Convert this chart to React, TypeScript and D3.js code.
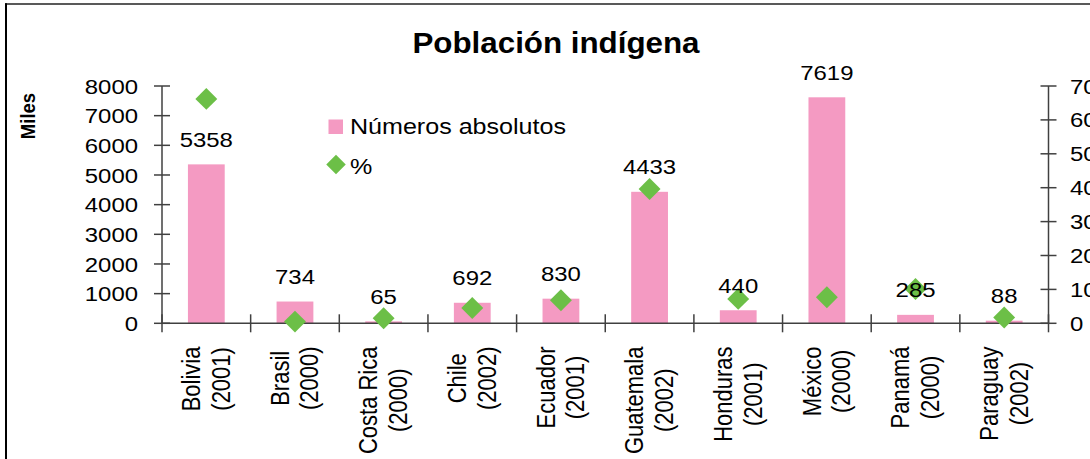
import React from 'react';
import * as d3 from 'd3';

const countries = ['Bolivia', 'Brasil', 'Costa Rica', 'Chile', 'Ecuador', 'Guatemala', 'Honduras', 'México', 'Panamá', 'Paraguay'];
const years = ['(2001)', '(2000)', '(2000)', '(2002)', '(2001)', '(2002)', '(2001)', '(2000)', '(2000)', '(2002)'];
const absolutos = [5358, 734, 65, 692, 830, 4433, 440, 7619, 285, 88];
const porcentaje = [66.2, 0.5, 1.5, 4.5, 6.8, 39.6, 7.2, 7.7, 10.1, 1.7];
const leftTicks = [0, 1000, 2000, 3000, 4000, 5000, 6000, 7000, 8000];
const rightTicks = [0, 10, 20, 30, 40, 50, 60, 70];

const FONT = 'Liberation Sans, Arial, Helvetica, sans-serif';
const PINK = '#F49AC2';
const GREEN = '#6CBF47';
const AXIS = '#404040';
const SX = 1.14;

let ctx: CanvasRenderingContext2D | null = null;
function measure(text: string, size: number): number {
  if (!ctx) {
    const c = document.createElement('canvas');
    ctx = c.getContext('2d');
  }
  if (!ctx) return text.length * size * 0.55;
  ctx.font = `${size}px "Liberation Sans", Arial, sans-serif`;
  return ctx.measureText(text).width;
}

export default function App() {
  const W = 1090, H = 459;
  const x0 = 162, x1 = 1048.5, yTop = 86, yBase = 323.3;
  const x = d3.scaleBand<string>().domain(countries).range([x0, x1]).paddingInner(0).paddingOuter(0);
  const yL = d3.scaleLinear().domain([0, 8000]).range([yBase, yTop]);
  const yR = d3.scaleLinear().domain([0, 70]).range([yBase, yTop]);
  const bw = x.bandwidth() * 0.415;
  const diamond = d3.symbol().type(d3.symbolSquare).size(240)();
  const legDiamond = d3.symbol().type(d3.symbolSquare).size(190)();
  const bandEdges = [...countries.map((c) => x(c) as number), x1];

  return (
    <svg width={W} height={H} style={{ position: 'absolute', left: 0, top: 0, display: 'block' }} fontFamily={FONT}>
      <rect x={0} y={0} width={W} height={H} fill="#fff" />
      {/* frame */}
      <line x1={5} x2={W} y1={4} y2={4} stroke="#222" strokeWidth={1.6} />
      <line x1={6} x2={6} y1={3.2} y2={H} stroke="#000" strokeWidth={2} />

      {/* title */}
      <g transform={`translate(556,53) scale(1.08,1)`}>
        <text textAnchor="middle" fontSize={29} fontWeight="bold" fill="#000">Población indígena</text>
      </g>

      {/* Miles */}
      <g transform={`translate(27,116) scale(${SX},1) rotate(-90)`}>
        <text textAnchor="middle" y={7} fontSize={18.5} fontWeight="bold" fill="#000">Miles</text>
      </g>

      {/* bars */}
      {countries.map((c, i) => (
        <rect key={c} x={(x(c) as number) + x.bandwidth() / 2 - bw / 2} y={yL(absolutos[i])}
          width={bw} height={yBase - yL(absolutos[i])} fill={PINK} />
      ))}

      {/* axes */}
      <line x1={x0} x2={x0} y1={yTop} y2={yBase} stroke={AXIS} strokeWidth={1.5} />
      <line x1={x1} x2={x1} y1={yTop} y2={yBase} stroke={AXIS} strokeWidth={1.5} />
      <line x1={x0} x2={x1} y1={yBase} y2={yBase} stroke={AXIS} strokeWidth={1.5} />
      {leftTicks.map((t) => (
        <g key={'l' + t}>
          <line x1={x0 - 8} x2={x0 + 8} y1={yL(t)} y2={yL(t)} stroke={AXIS} strokeWidth={1.5} />
          <g transform={`translate(138,${yL(t)}) scale(${SX},1)`}>
            <text textAnchor="end" dy="0.36em" fontSize={21} fill="#000">{t}</text>
          </g>
        </g>
      ))}
      {rightTicks.map((t) => (
        <g key={'r' + t}>
          <line x1={x1 - 8} x2={x1 + 8} y1={yR(t)} y2={yR(t)} stroke={AXIS} strokeWidth={1.5} />
          <g transform={`translate(1070,${yR(t)}) scale(${SX},1)`}>
            <text textAnchor="start" dy="0.36em" fontSize={21} fill="#000">{t}</text>
          </g>
        </g>
      ))}
      {bandEdges.map((e, i) => (
        <line key={'x' + i} x1={e} x2={e} y1={yBase - 9} y2={yBase + 9} stroke={AXIS} strokeWidth={1.5} />
      ))}

      {/* diamonds */}
      {countries.map((c, i) => (
        <path key={'d' + c} d={diamond as string}
          transform={`translate(${(x(c) as number) + x.bandwidth() / 2},${yR(porcentaje[i])}) rotate(45)`}
          fill={GREEN} />
      ))}

      {/* value labels */}
      {countries.map((c, i) => (
        <g key={'v' + c} transform={`translate(${(x(c) as number) + x.bandwidth() / 2},${yL(absolutos[i]) - 17.5}) scale(${SX},1)`}>
          <text textAnchor="middle" fontSize={21} fill="#000">{absolutos[i]}</text>
        </g>
      ))}

      {/* x labels */}
      {countries.map((c, i) => {
        const cx = (x(c) as number) + x.bandwidth() / 2;
        const maxW = Math.max(measure(c, 22), measure(years[i], 22));
        const cy = 346.5 + maxW / 2;
        return (
          <g key={'xl' + c} transform={`translate(${cx},${cy}) scale(${SX},1) rotate(-90)`}>
            <text textAnchor="middle" y={-5.5} fontSize={22} fill="#000">{c}</text>
            <text textAnchor="middle" y={20.5} fontSize={22} fill="#000">{years[i]}</text>
          </g>
        );
      })}

      {/* legend */}
      <rect x={328.5} y={119.5} width={14.5} height={14.5} fill={PINK} />
      <g transform={`translate(350,134) scale(${SX},1)`}>
        <text fontSize={22} fill="#000">Números absolutos</text>
      </g>
      <path d={legDiamond as string} transform="translate(336,164.5) rotate(45)" fill={GREEN} />
      <g transform={`translate(350,174) scale(${SX},1)`}>
        <text fontSize={22} fill="#000">%</text>
      </g>
    </svg>
  );
}
